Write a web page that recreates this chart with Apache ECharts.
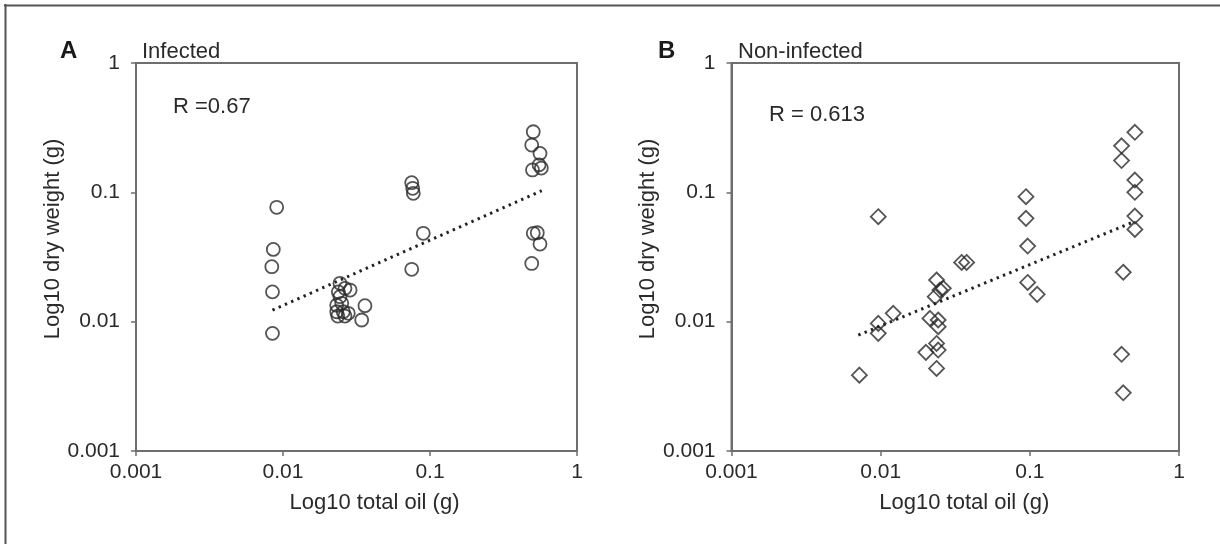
<!DOCTYPE html>
<html>
<head>
<meta charset="utf-8">
<script src="https://cdn.jsdelivr.net/npm/echarts@6/dist/echarts.min.js"></script>
<style>
html,body{margin:0;padding:0;background:#fff;}
#chart{width:1220px;height:544px;}
</style>
</head>
<body>
<div id="chart"></div>
<script>
// Tick labels for both log axes
var tickLabels = ['0.001', '0.01', '0.1', '1'];

// Panel A: Infected  [total oil (g), dry weight (g)]
var infectedPoints = [
  [0.00906, 0.0766], [0.00859, 0.0362], [0.00839, 0.0266], [0.00848, 0.0170], [0.00848, 0.00812],
  [0.0244, 0.0198], [0.0264, 0.0181], [0.0238, 0.0170], [0.0286, 0.01755], [0.0244, 0.0156],
  [0.0232, 0.0134], [0.0251, 0.01386], [0.0232, 0.01193], [0.0257, 0.01193], [0.0278, 0.0116],
  [0.0236, 0.01105], [0.0264, 0.01105],
  [0.0361, 0.0133], [0.0343, 0.0103],
  [0.0751, 0.1187], [0.0763, 0.1074], [0.0770, 0.0983], [0.0900, 0.0482], [0.0751, 0.0254],
  [0.504, 0.294], [0.492, 0.232], [0.560, 0.200], [0.552, 0.163], [0.498, 0.149], [0.572, 0.154],
  [0.504, 0.0482], [0.537, 0.0487], [0.560, 0.0398], [0.492, 0.0282]
];
var infectedTrend = [[0.00848, 0.0123], [0.575, 0.1029]];

// Panel B: Non-infected
var nonInfectedPoints = [
  [0.506, 0.291], [0.412, 0.229], [0.412, 0.176], [0.506, 0.1245], [0.506, 0.100],
  [0.506, 0.0656], [0.506, 0.0517], [0.423, 0.0241], [0.412, 0.00559], [0.423, 0.00282],
  [0.0942, 0.0925], [0.0942, 0.0629], [0.0967, 0.0384], [0.0967, 0.0201], [0.112, 0.01626],
  [0.00964, 0.0648], [0.0349, 0.0287], [0.0377, 0.0287],
  [0.0237, 0.0210], [0.0250, 0.01755], [0.0263, 0.0181], [0.0232, 0.0156],
  [0.01214, 0.0116], [0.00964, 0.0097], [0.00964, 0.00812],
  [0.0214, 0.0106], [0.0243, 0.0103], [0.0243, 0.00914], [0.0237, 0.00679],
  [0.0201, 0.00579], [0.0243, 0.00603], [0.0237, 0.00435], [0.00720, 0.00386]
];
var nonInfectedTrend = [[0.00708, 0.00787], [0.481, 0.0582]];

var xAxisName = 'Log10 total oil (g)';
var yAxisName = 'Log10 dry weight (g)';

var FONT = '"Liberation Sans", Arial, Helvetica, sans-serif';
var TXT = '#2a2a2a';
var AX = '#6e6e6e';

function fmt(v) {
  var i = Math.round(Math.log10(v)) + 3;
  return tickLabels[i] !== undefined ? tickLabels[i] : '';
}

function xAxis(gi, padLeft) {
  return {
    type: 'log', logBase: 10, min: 0.001, max: 1, gridIndex: gi,
    name: xAxisName, nameLocation: 'middle', nameGap: 41,
    nameTextStyle: {fontFamily: FONT, fontSize: 22, color: TXT, padding: [0, 0, 0, padLeft]},
    axisLine: {lineStyle: {color: AX, width: 2}},
    axisTick: {show: true, inside: false, length: 5, lineStyle: {color: AX, width: 1.5}},
    axisLabel: {formatter: fmt, fontFamily: FONT, fontSize: 21, color: TXT, margin: 11},
    splitLine: {show: false}, minorTick: {show: false}
  };
}
function yAxis(gi) {
  return {
    type: 'log', logBase: 10, min: 0.001, max: 1, gridIndex: gi,
    name: yAxisName, nameLocation: 'middle', nameGap: 68, nameRotate: 90,
    nameTextStyle: {fontFamily: FONT, fontSize: 22, color: TXT, padding: [0, 0, 0, 36]},
    axisLine: {lineStyle: {color: AX, width: 2}},
    axisTick: {show: true, inside: false, length: 5, lineStyle: {color: AX, width: 1.5}},
    axisLabel: {formatter: fmt, fontFamily: FONT, fontSize: 21, color: TXT, margin: 16},
    splitLine: {show: false}, minorTick: {show: false}
  };
}

var chart = echarts.init(document.getElementById('chart'), null, {renderer: 'canvas'});
var dotted = {color: '#222', width: 3, type: [2.4, 4.4]};

chart.setOption({
  animation: false,
  backgroundColor: '#fff',
  grid: [
    {left: 136, top: 63, width: 441, height: 388, show: true, borderColor: AX, borderWidth: 2, backgroundColor: 'transparent'},
    {left: 731.5, top: 63, width: 447.5, height: 388, show: true, borderColor: AX, borderWidth: 2, backgroundColor: 'transparent'}
  ],
  xAxis: [xAxis(0, 36), xAxis(1, 18)],
  yAxis: [yAxis(0), yAxis(1)],
  title: [
    {text: 'A', left: 55, top: 34, textStyle: {fontFamily: FONT, fontSize: 24, fontWeight: 'bold', color: '#1a1a1a'}},
    {text: 'Infected', left: 137, top: 36, textStyle: {fontFamily: FONT, fontSize: 22, fontWeight: 'normal', color: TXT}},
    {text: 'R =0.67', left: 168, top: 91, textStyle: {fontFamily: FONT, fontSize: 22, fontWeight: 'normal', color: TXT}},
    {text: 'B', left: 653, top: 34, textStyle: {fontFamily: FONT, fontSize: 24, fontWeight: 'bold', color: '#1a1a1a'}},
    {text: 'Non-infected', left: 733, top: 36, textStyle: {fontFamily: FONT, fontSize: 22, fontWeight: 'normal', color: TXT}},
    {text: 'R = 0.613', left: 764, top: 99, textStyle: {fontFamily: FONT, fontSize: 22, fontWeight: 'normal', color: TXT}}
  ],
  graphic: [
    {type: 'line', shape: {x1: 4, y1: 5.5, x2: 1220, y2: 5.5}, style: {stroke: '#555', lineWidth: 2}},
    {type: 'line', shape: {x1: 5.5, y1: 4, x2: 5.5, y2: 544}, style: {stroke: '#555', lineWidth: 2}}
  ],
  series: [
    {type: 'scatter', xAxisIndex: 0, yAxisIndex: 0, data: infectedPoints, symbol: 'circle', symbolSize: 13,
     itemStyle: {color: 'rgba(255,255,255,0)', borderColor: '#2a2a2a', borderWidth: 1.8}},
    {type: 'line', xAxisIndex: 0, yAxisIndex: 0, data: infectedTrend, symbol: 'none', lineStyle: dotted, z: 3},
    {type: 'scatter', xAxisIndex: 1, yAxisIndex: 1, data: nonInfectedPoints, symbol: 'diamond', symbolSize: 15,
     itemStyle: {color: 'rgba(255,255,255,0)', borderColor: '#2a2a2a', borderWidth: 1.8}},
    {type: 'line', xAxisIndex: 1, yAxisIndex: 1, data: nonInfectedTrend, symbol: 'none', lineStyle: dotted, z: 3}
  ]
});
</script>
</body>
</html>
